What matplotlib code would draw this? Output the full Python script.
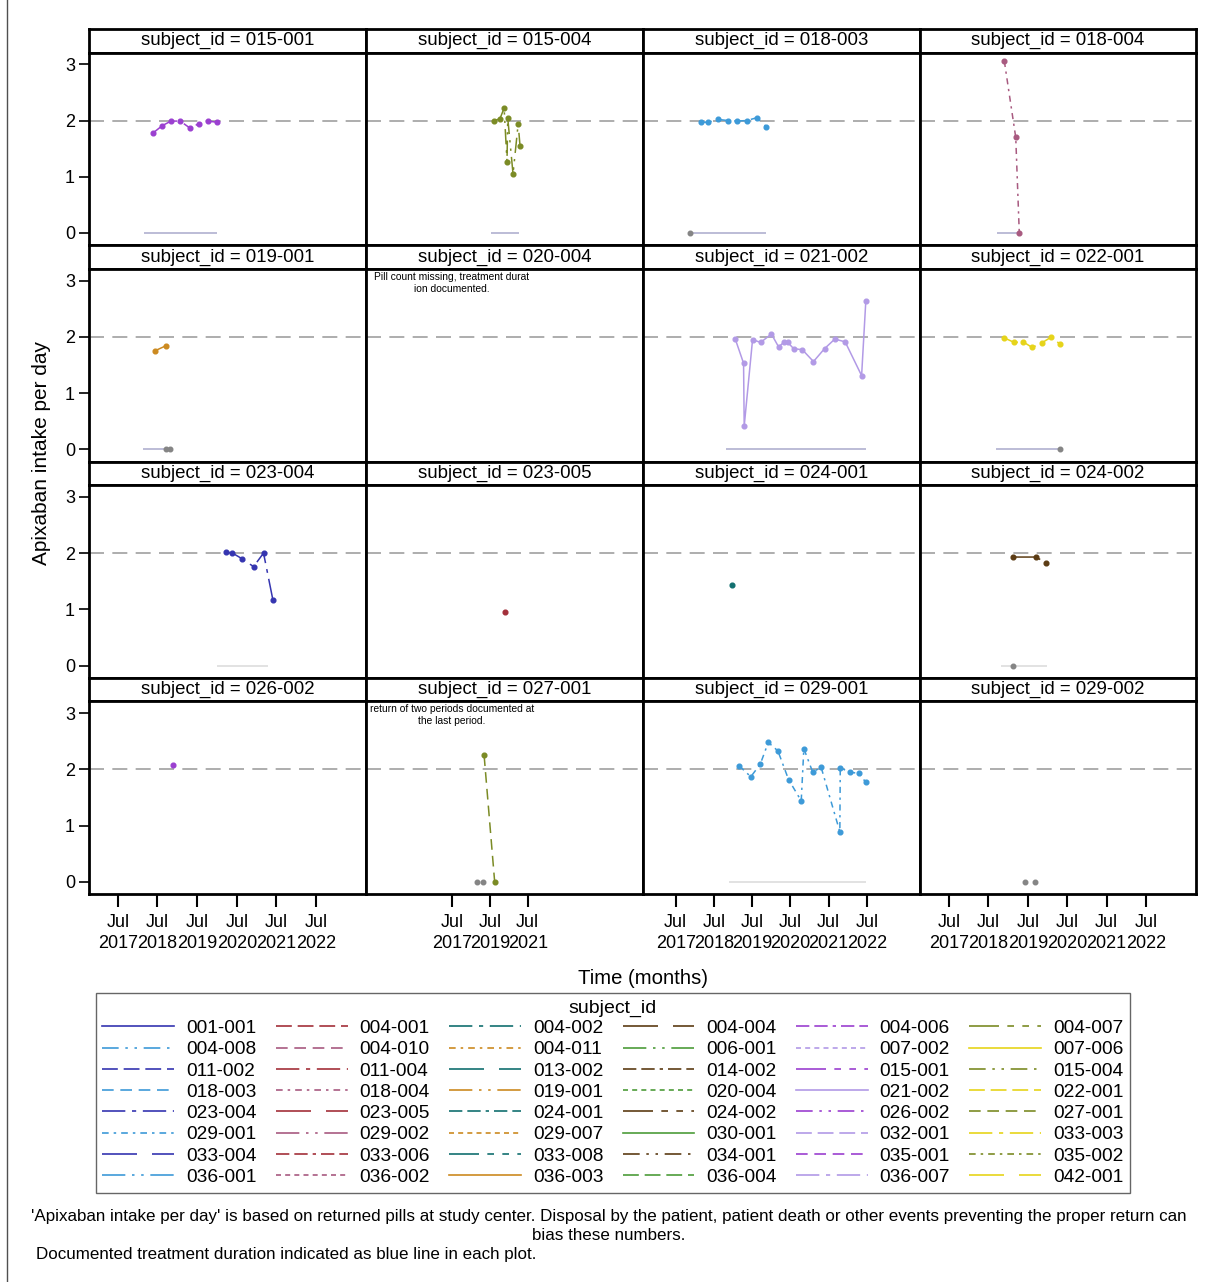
import matplotlib
matplotlib.use('Agg')
import matplotlib.pyplot as plt
import matplotlib.dates as mdates
from matplotlib.lines import Line2D
import pandas as pd

plt.rcParams['font.family'] = ['Liberation Sans', 'DejaVu Sans']

# legend order (row by row as in the picture)
subjects = ['001-001', '004-001', '004-002', '004-004', '004-006', '004-007',
            '004-008', '004-010', '004-011', '006-001', '007-002', '007-006',
            '011-002', '011-004', '013-002', '014-002', '015-001', '015-004',
            '018-003', '018-004', '019-001', '020-004', '021-002', '022-001',
            '023-004', '023-005', '024-001', '024-002', '026-002', '027-001',
            '029-001', '029-002', '029-007', '030-001', '032-001', '033-003',
            '033-004', '033-006', '033-008', '034-001', '035-001', '035-002',
            '036-001', '036-002', '036-003', '036-004', '036-007', '042-001']

# 12 colours and 11 line patterns cycle independently
colors = ['#3535b0', '#a3303a', '#127070', '#5c3c14', '#9b40d0', '#7b8b25',
          '#3d9ad8', '#a85a80', '#cc8a20', '#4d9c3a', '#b29ae6', '#e6d41a']
patterns = ['-', (0, (9.5, 3.5)), (0, (14, 4, 2.5, 4)), (0, (21, 9)),
            (0, (8, 3, 8, 3, 2, 3)), (0, (18, 5, 4, 5, 4, 5)),
            (0, (10, 4, 1.5, 4, 1.5, 4)), (0, (7, 4)), (0, (4, 3, 1.5, 3)),
            (0, (14, 4, 1.5, 4, 1.5, 4)), (0, (3, 2.5))]

panel_ids = ['015-001', '015-004', '018-003', '018-004',
             '019-001', '020-004', '021-002', '022-001',
             '023-004', '023-005', '024-001', '024-002',
             '026-002', '027-001', '029-001', '029-002']

# apixaban intake per day
d015_001 = ['2018-05-22', '2018-08-15', '2018-11-03', '2019-01-26', '2019-04-23',
            '2019-07-16', '2019-10-08', '2019-12-28']
v015_001 = [1.78, 1.91, 1.99, 1.99, 1.87, 1.94, 1.99, 1.97]
d015_004 = ['2019-09-26', '2020-01-10', '2020-04-01', '2020-05-26', '2020-06-10',
            '2020-09-20', '2020-12-28', '2021-02-02']
v015_004 = [2.00, 2.03, 2.22, 1.27, 2.04, 1.05, 1.94, 1.55]
d018_003 = ['2018-02-28', '2018-05-08', '2018-08-08', '2018-11-10', '2019-02-10',
            '2019-05-12', '2019-08-15', '2019-11-14']
v018_003 = [1.97, 1.97, 2.02, 2.00, 1.99, 2.00, 2.05, 1.89]
d018_004 = ['2018-11-25', '2019-03-11', '2019-04-13']
v018_004 = [3.06, 1.70, 0.00]
d019_001 = ['2018-06-06', '2018-09-16']
v019_001 = [1.75, 1.84]
d021_002 = ['2019-01-19', '2019-04-10', '2019-04-16', '2019-07-05', '2019-09-20',
            '2020-01-01', '2020-03-10', '2020-04-27', '2020-06-06', '2020-07-31',
            '2020-10-23', '2021-02-06', '2021-05-23', '2021-08-29', '2021-12-06',
            '2022-05-12', '2022-06-21']
v021_002 = [1.97, 1.53, 0.41, 1.95, 1.90, 2.05, 1.82, 1.90, 1.90, 1.79, 1.77,
            1.56, 1.79, 1.96, 1.91, 1.31, 2.63]
d022_001 = ['2018-11-25', '2019-02-25', '2019-05-19', '2019-08-11', '2019-11-06',
            '2020-01-30', '2020-04-27']
v022_001 = [1.98, 1.90, 1.91, 1.81, 1.89, 1.99, 1.87]
d023_004 = ['2020-03-21', '2020-05-22', '2020-08-18', '2020-12-02', '2021-03-04',
            '2021-05-30']
v023_004 = [2.02, 2.00, 1.90, 1.76, 2.00, 1.16]
d023_005 = ['2020-04-20']
v023_005 = [0.95]
d024_001 = ['2018-12-16']
v024_001 = [1.43]
d024_002 = ['2019-02-17', '2019-09-13', '2019-12-16']
v024_002 = [1.93, 1.93, 1.83]
d026_002 = ['2018-11-25']
v026_002 = [2.08]
d027_001 = ['2019-03-11', '2019-10-01']
v027_001 = [2.25, 0.00]
d029_001 = ['2019-03-01', '2019-06-18', '2019-09-16', '2019-12-02', '2020-03-03',
            '2020-06-13', '2020-10-12', '2020-11-06', '2021-01-30', '2021-04-20',
            '2021-10-16', '2021-10-20', '2022-01-19', '2022-04-16', '2022-06-21']
v029_001 = [2.06, 1.87, 2.09, 2.48, 2.33, 1.82, 1.44, 2.37, 1.95, 2.04, 0.89,
            2.03, 1.95, 1.93, 1.77]

series = {'015-001': (d015_001, v015_001), '015-004': (d015_004, v015_004),
          '018-003': (d018_003, v018_003), '018-004': (d018_004, v018_004),
          '019-001': (d019_001, v019_001), '021-002': (d021_002, v021_002),
          '022-001': (d022_001, v022_001), '023-004': (d023_004, v023_004),
          '023-005': (d023_005, v023_005), '024-001': (d024_001, v024_001),
          '024-002': (d024_002, v024_002), '026-002': (d026_002, v026_002),
          '027-001': (d027_001, v027_001), '029-001': (d029_001, v029_001)}

# documented treatment duration (start, end)
duration = {'015-001': ('2018-02-27', '2019-12-28'), '015-004': ('2019-07-27', '2021-01-20'),
            '018-003': ('2017-11-14', '2019-11-14'), '018-004': ('2018-09-16', '2019-04-13'),
            '019-001': ('2018-02-17', '2018-10-23'), '021-002': ('2018-10-27', '2022-06-21'),
            '022-001': ('2018-09-09', '2020-04-27'), '023-004': ('2020-01-01', '2021-04-16'),
            '024-002': ('2018-10-27', '2019-12-27'), '029-001': ('2018-11-21', '2022-06-21')}
light_duration = ['023-004', '024-002', '029-001']

# periods without pill count (grey dots at 0)
missing = {'018-003': ['2017-11-14'], '019-001': ['2018-09-16', '2018-10-23'],
           '022-001': ['2020-04-27'], '024-002': ['2019-02-17'],
           '027-001': ['2018-10-20', '2019-02-27'], '029-002': ['2019-06-06', '2019-09-05']}

notes = {'020-004': 'Pill count missing, treatment durat\nion documented.',
         '027-001': 'return of two periods documented at\nthe last period.'}

# x range and tick years per panel column
col_xlim = [('2016-10-08', '2023-10-04'), ('2012-12-09', '2027-08-07'),
            ('2016-08-22', '2023-11-21'), ('2016-10-04', '2023-10-08')]
col_years = [[2017, 2018, 2019, 2020, 2021, 2022], [2017, 2019, 2021],
             [2017, 2018, 2019, 2020, 2021, 2022], [2017, 2018, 2019, 2020, 2021, 2022]]

W, H = 1215, 1282
fig = plt.figure(figsize=(W / 100, H / 100), dpi=100)


def px_axes(x0, y0, x1, y1):
    return fig.add_axes([x0 / W, 1 - y1 / H, (x1 - x0) / W, (y1 - y0) / H])


col_x = [89, 366, 643, 920, 1196]
row_top = [29, 245.3, 461.6, 677.9]
head_h = 23.5
plot_h = 192.8

for i, sid in enumerate(panel_ids):
    r, c = divmod(i, 4)
    x0, x1 = col_x[c], col_x[c + 1]
    top = row_top[r]

    hax = px_axes(x0, top, x1, top + head_h)
    hax.set_xticks([])
    hax.set_yticks([])
    for s in hax.spines.values():
        s.set_linewidth(2)
    hax.text(0.5, 0.5, f'subject_id = {sid}', ha='center', va='center',
             fontsize=13.4, transform=hax.transAxes)

    ax = px_axes(x0, top + head_h, x1, top + head_h + plot_h)
    for s in ax.spines.values():
        s.set_linewidth(2)
    ax.axhline(2, color='#a0a0a0', lw=1.2, dashes=(9, 5))

    if sid in duration:
        a, b = pd.to_datetime(list(duration[sid]))
        ax.plot([a, b], [0, 0], color='#dadada' if sid in light_duration else '#a9a9cc',
                lw=1.1, solid_capstyle='butt')
    if sid in missing:
        md = pd.to_datetime(missing[sid])
        ax.plot(md, [0] * len(md), 'o', color='#858585', ms=3.3, ls='none')
    if sid in series:
        k = subjects.index(sid)
        d, v = series[sid]
        ax.plot(pd.to_datetime(d), v, color=colors[k % 12], ls=patterns[k % 11], lw=1.1,
                marker='o', ms=3.4, mec=colors[k % 12])
    if sid in notes:
        ax.text(0.31, 0.985, notes[sid], transform=ax.transAxes, ha='center', va='top',
                fontsize=7.4, linespacing=1.25)

    ax.set_ylim(-0.22, 3.21)
    ax.set_yticks([0, 1, 2, 3])
    lo, hi = pd.to_datetime(list(col_xlim[c]))
    ax.set_xlim(lo, hi)
    ax.set_xticks(pd.to_datetime([f'{y}-07-01' for y in col_years[c]]))
    ax.xaxis.set_major_formatter(mdates.DateFormatter('%b\n%Y'))
    ax.tick_params(axis='y', length=7, width=1.2, labelsize=13, pad=3)
    ax.tick_params(axis='x', length=9, width=1.5, labelsize=13, pad=5)
    if c != 0:
        ax.tick_params(axis='y', left=False, labelleft=False)
    if r != 3:
        ax.tick_params(axis='x', bottom=False, labelbottom=False)
    for lab in ax.get_xticklabels():
        lab.set_linespacing(1.3)

fig.text(42 / W, 1 - 453 / H, 'Apixaban intake per day', rotation=90,
         ha='center', va='center', fontsize=15)
fig.text(642.5 / W, 1 - 978 / H, 'Time (months)', ha='center', va='center', fontsize=14.6)

# legend, filled column by column so it reads row by row
order = [r * 6 + c for c in range(6) for r in range(8)]
handles = [Line2D([], [], color=colors[k % 12], ls=patterns[k % 11], lw=1.2) for k in order]
labels = [subjects[k] for k in order]
leg = fig.legend(handles, labels, ncol=6, loc='upper center',
                 bbox_to_anchor=(613 / W, 1 - 993 / H), title='subject_id',
                 fontsize=13.8, title_fontsize=14, handlelength=3.75, handletextpad=0.62,
                 columnspacing=1.0, labelspacing=0.2, borderpad=0.35, frameon=True,
                 fancybox=False, edgecolor='#404040', borderaxespad=0)
leg.get_frame().set_linewidth(1.0)
leg._legend_box.sep = 2

fig.text(609 / W, 1 - 1226 / H,
         "'Apixaban intake per day' is based on returned pills at study center. Disposal by the "
         "patient, patient death or other events preventing the proper return can\n"
         "bias these numbers.", ha='center', va='center', fontsize=12.25, linespacing=1.38)
fig.text(36 / W, 1 - 1255 / H, 'Documented treatment duration indicated as blue line in each plot.',
         ha='left', va='center', fontsize=12.25)

fig.add_artist(Line2D([7 / W, 7 / W], [0, 1], color='#505050', lw=1))

fig.savefig('out.png', dpi=100)
